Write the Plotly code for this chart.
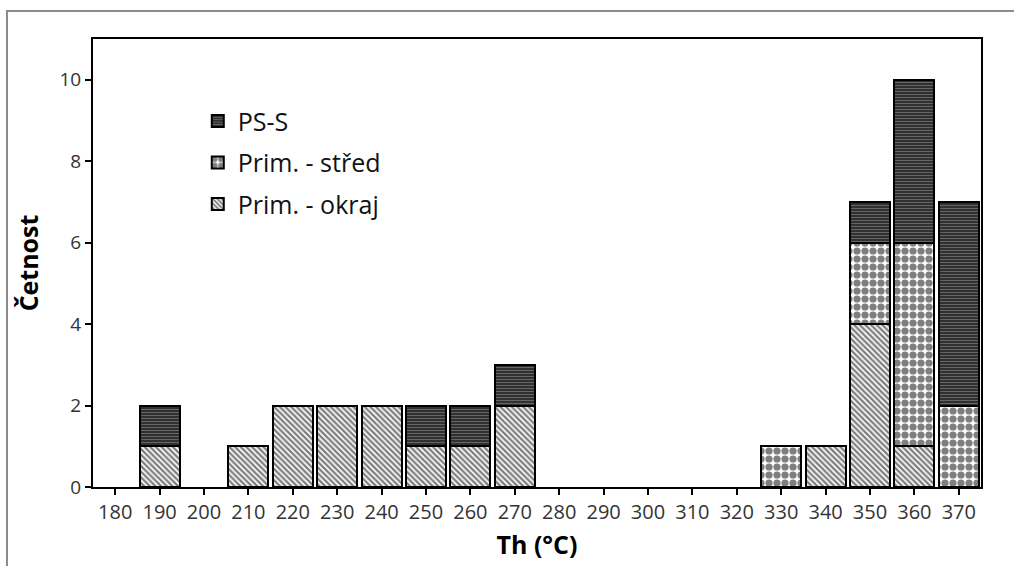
import plotly.graph_objects as go

categories = [str(v) for v in range(180, 380, 10)]
okraj = [0, 1, 0, 1, 2, 2, 2, 1, 1, 2, 0, 0, 0, 0, 0, 0, 1, 4, 1, 0]
stred = [0, 0, 0, 0, 0, 0, 0, 0, 0, 0, 0, 0, 0, 0, 0, 1, 0, 2, 5, 2]
ps_s  = [0, 1, 0, 0, 0, 0, 0, 1, 1, 1, 0, 0, 0, 0, 0, 0, 0, 1, 4, 5]

FONT = "Open Sans"


def nz(vals):
    return [v if v else None for v in vals]


fig = go.Figure()
fig.add_trace(go.Bar(
    x=categories, y=nz(okraj), name="Prim. - okraj", legendgroup="a", legendrank=3,
    marker=dict(color="white", line=dict(color="black", width=2),
                pattern=dict(shape="\\", size=4, solidity=0.58,
                             fgcolor="black", bgcolor="white")),
))
fig.add_trace(go.Bar(
    x=categories, y=nz(stred), name="Prim. - střed", legendgroup="b", legendrank=2,
    marker=dict(color="white", line=dict(color="black", width=2),
                pattern=dict(shape=".", size=8, solidity=0.64,
                             fgcolor="black", bgcolor="white")),
))
fig.add_trace(go.Bar(
    x=categories, y=nz(ps_s), name="PS-S", legendgroup="c", legendrank=1,
    marker=dict(color="#303030", line=dict(color="black", width=2),
                pattern=dict(shape="-", size=3, solidity=0.3,
                             fgcolor="#a8a8a8", bgcolor="#303030")),
))

L, R, T, B = 93, 33, 39, 79
W, H = 1014, 566
pw, ph = W - L - R, H - T - B

fig.update_layout(
    width=W, height=H,
    margin=dict(l=L, r=R, t=T, b=B),
    barmode="stack", bargap=0.1,
    plot_bgcolor="white", paper_bgcolor="white",
    font=dict(family=FONT, color="#222"),
    showlegend=True,
    legend=dict(
        x=0.118, y=0.868, xanchor="left", yanchor="top",
        traceorder="grouped", tracegroupgap=6,
        font=dict(family=FONT, size=25, color="#111"),
        bgcolor="rgba(0,0,0,0)",
    ),
    xaxis=dict(
        type="category",
        showline=True, linecolor="black", linewidth=2, mirror=True,
        ticks="outside", ticklen=6, tickwidth=2, tickcolor="black",
        tickfont=dict(family=FONT, size=20, color="#333"),
        title=dict(text="<b>Th (°C)</b>", font=dict(family=FONT, size=25, color="black"), standoff=12),
        showgrid=False,
    ),
    yaxis=dict(
        range=[0, 11],
        tickvals=[0, 2, 4, 6, 8, 10],
        showline=True, linecolor="black", linewidth=2, mirror=True,
        ticks="outside", ticklen=6, tickwidth=2, tickcolor="black",
        tickfont=dict(family=FONT, size=19, color="#333"),
        title=dict(text="<b>Četnost</b>", font=dict(family=FONT, size=25, color="black"), standoff=14),
        showgrid=False, zeroline=False,
    ),
    shapes=[dict(
        type="rect", xref="paper", yref="paper",
        x0=(7 - L) / pw, x1=(W + 20 - L) / pw,
        y0=-(H + 20 - T - ph) / ph, y1=(H - B - 11) / ph,
        line=dict(color="#8c8c8c", width=2), fillcolor="rgba(0,0,0,0)",
        layer="below",
    )],
)

fig.write_html("out.html")
